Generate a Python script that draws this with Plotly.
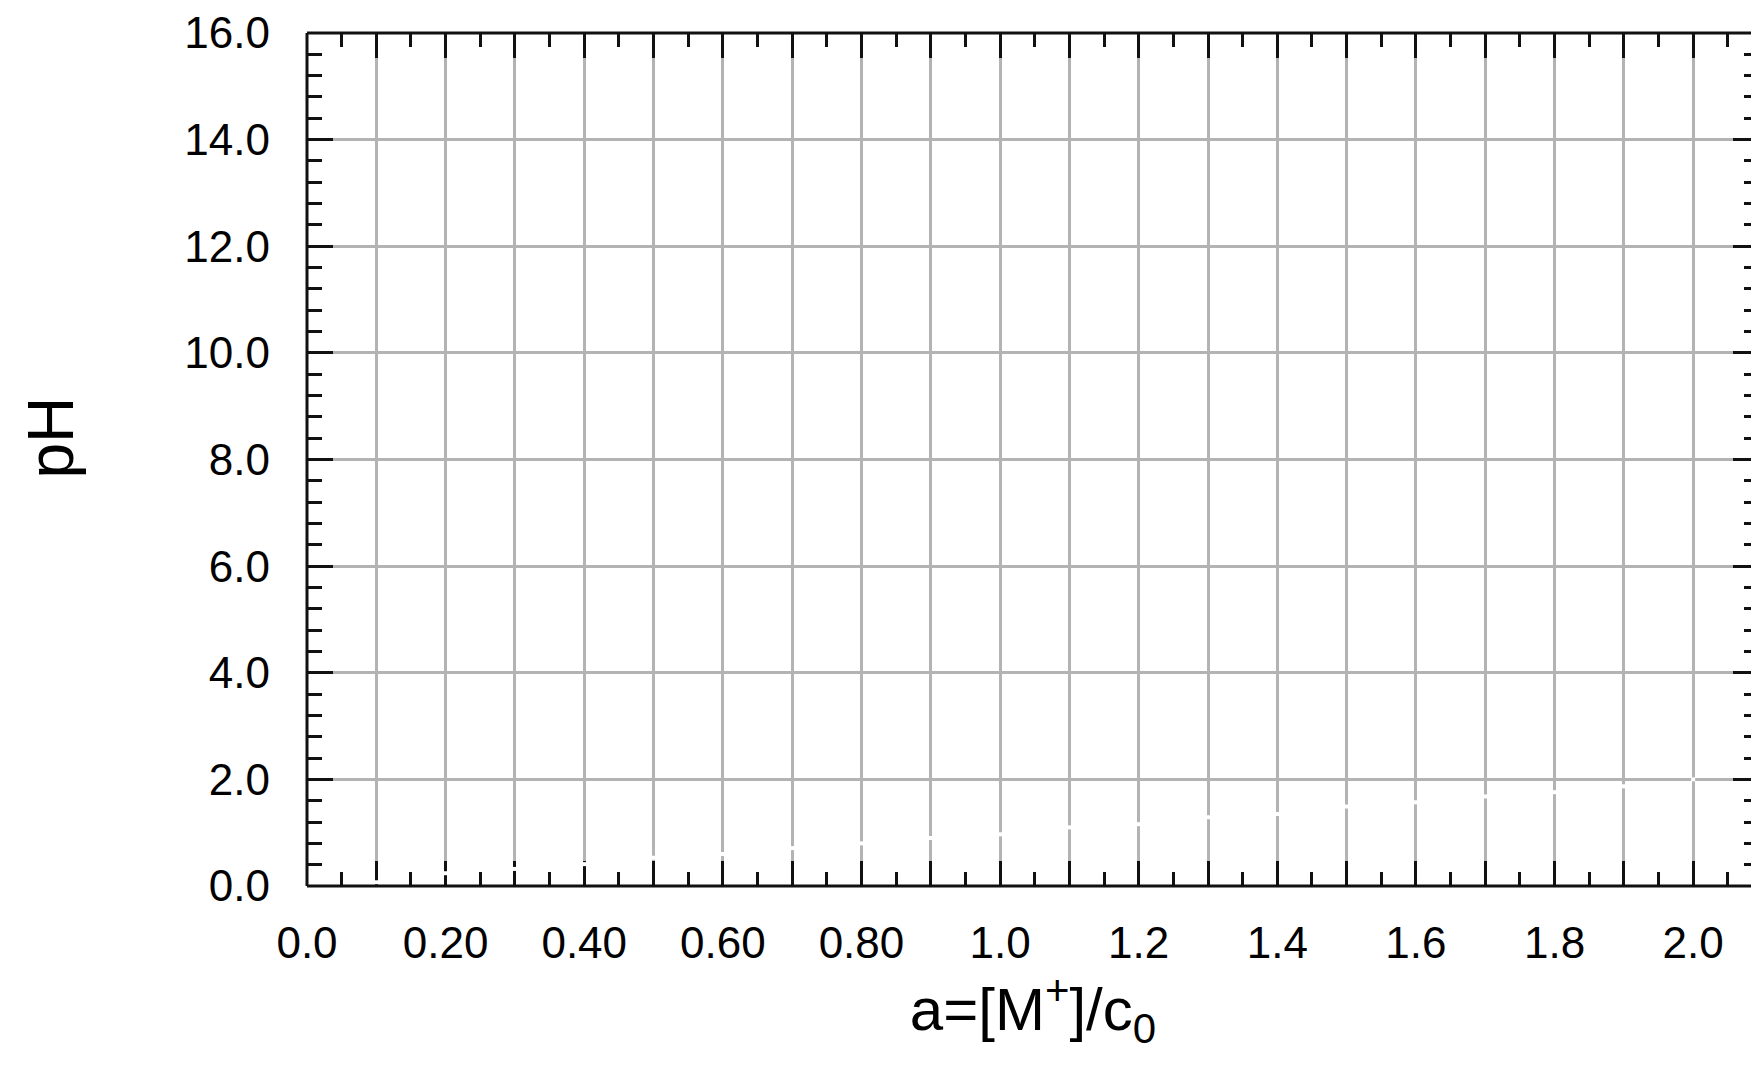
import plotly.graph_objects as go

# ---- data ----
a_values = [0.1, 0.2, 0.3, 0.4, 0.5, 0.6, 0.7, 0.8, 0.9, 1.0,
            1.1, 1.2, 1.3, 1.4, 1.5, 1.6, 1.7, 1.8, 1.9, 2.0]
ph_values = [0.07, 0.24, 0.32, 0.41, 0.53, 0.60, 0.71, 0.80, 0.90, 0.97,
             1.10, 1.16, 1.29, 1.35, 1.49, 1.57, 1.68, 1.76, 1.87, 2.00]

x_tick_vals = [0.0, 0.1, 0.2, 0.3, 0.4, 0.5, 0.6, 0.7, 0.8, 0.9, 1.0,
               1.1, 1.2, 1.3, 1.4, 1.5, 1.6, 1.7, 1.8, 1.9, 2.0]
x_tick_text = ["0.0", "", "0.20", "", "0.40", "", "0.60", "", "0.80", "", "1.0",
               "", "1.2", "", "1.4", "", "1.6", "", "1.8", "", "2.0"]
y_tick_vals = [0, 2, 4, 6, 8, 10, 12, 14, 16]
y_tick_text = ["0.0", "2.0", "4.0", "6.0", "8.0", "10.0", "12.0", "14.0", "16.0"]

x_title = "a=[M<sup>+</sup>]/c<sub>0</sub>"
y_title = "pH"

FONT = "Liberation Sans, Arial, sans-serif"
GRID = "#b3b3b3"
AX = "#111111"

fig = go.Figure()
fig.add_trace(go.Scatter(
    x=a_values, y=ph_values, mode="markers",
    marker=dict(symbol="square", size=4, color="white", line=dict(width=0)),
    showlegend=False, hoverinfo="skip",
))

common_tick = dict(
    ticks="inside", tickcolor=AX, tickwidth=3,
    showgrid=True, gridcolor=GRID, gridwidth=2.5,
    zeroline=False, showline=False,
    tickfont=dict(family=FONT, size=44, color="black"),
    layer="below traces",
    ticklabeloverflow="allow",
)

fig.update_xaxes(
    range=[0, 2.095], tickmode="array", tickvals=x_tick_vals, ticktext=x_tick_text,
    ticklen=25, mirror="ticks",
    minor=dict(dtick=0.05, tick0=0, ticks="inside", ticklen=14, tickwidth=3,
               tickcolor=AX, showgrid=False),
    title=dict(text=x_title, font=dict(family=FONT, size=60, color="black"), standoff=0),
    ticklabelstandoff=27,
    **common_tick,
)
fig.update_yaxes(
    range=[0, 16], tickmode="array", tickvals=y_tick_vals, ticktext=y_tick_text,
    ticklen=26, mirror="ticks",
    minor=dict(dtick=0.4, tick0=0, ticks="inside", ticklen=15, tickwidth=3,
               tickcolor=AX, showgrid=False),
    ticklabelstandoff=36,
    **common_tick,
)

# y-axis title placed as an annotation (sits a little above the axis centre)
fig.add_annotation(
    text=y_title, textangle=-90, showarrow=False,
    xref="paper", x=0, xanchor="center", xshift=-257,
    yref="paper", y=0.5, yanchor="middle", yshift=22,
    font=dict(family=FONT, size=64, color="black"),
)

# axis frame lines (left, bottom, top); the right edge lies outside the page
for (x0, y0, x1, y1) in [(0, 0, 0, 1), (0, 0, 1, 0), (0, 1, 1, 1)]:
    fig.add_shape(type="line", xref="paper", yref="paper", x0=x0, y0=y0, x1=x1, y1=y1,
                  line=dict(color=AX, width=3), layer="above")

# the page body adds an 8 px offset, so the figure is 8 px smaller
fig.update_layout(
    width=1751, height=1058,
    margin=dict(l=299, r=0, t=20, b=180),
    paper_bgcolor="white", plot_bgcolor="white",
    font=dict(family=FONT, color="black"),
)

fig.write_html("out.html")
